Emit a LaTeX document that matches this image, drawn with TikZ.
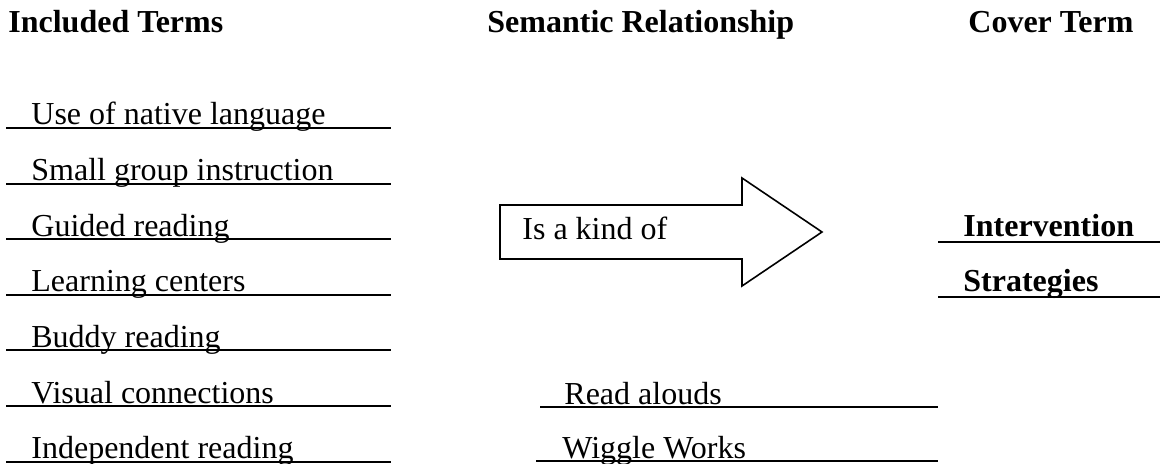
\documentclass[tikz,border=0pt]{standalone}
\usepackage{fontspec}
\setmainfont{Liberation Serif}
\usetikzlibrary{positioning}
\tikzset{
  term/.style={anchor=base west, inner sep=0pt, font=\fontsize{16}{19}\selectfont},
  head/.style={term, font=\fontsize{16}{19}\selectfont\bfseries},
  blank/.style={line width=1pt},
  coverblank/.style={line width=1.4pt},
  kindarrow/.style={line width=0.8pt, line join=miter}
}
\begin{document}
\begin{tikzpicture}[x=0.5pt, y=-0.5pt]
  \useasboundingbox (0,0) rectangle (1165,464);
  % column headings
  \node[head] (inc) at (8,33) {Included Terms};
  \node[head] (sem) at (487,33) {Semantic Relationship};
  \node[head] (cov) at (968,33) {Cover Term};
  % included terms on blanks
  \foreach \t [count=\i from 0] in {Use of native language, Small group instruction,
      Guided reading, Learning centers, Buddy reading, Visual connections,
      Independent reading}{
    \node[term] (inc\i) at (31,{125+55.6*\i}) {\t};
    \draw[blank] (6,{128+55.6*\i}) -- (391,{128+55.6*\i});
  }
  % relationship arrow
  \draw[kindarrow] (500,205) -- (742,205) -- (742,178) -- (822,232)
    -- (742,286) -- (742,259) -- (500,259) -- cycle;
  \node[term] (kind) at (522,240) {Is a kind of};
  % cover term
  \node[head] (cov1) at (963,237) {Intervention};
  \draw[coverblank] (938,242) -- (1160,242);
  \node[head] (cov2) at (963,292) {Strategies};
  \draw[coverblank] (938,297) -- (1160,297);
  % more included terms
  \node[term] (more1) at (564,404) {Read alouds};
  \draw[blank] (540,407) -- (938,407);
  \node[term] (more2) at (562,458) {Wiggle Works};
  \draw[blank] (536,461) -- (938,461);
\end{tikzpicture}
\end{document}
